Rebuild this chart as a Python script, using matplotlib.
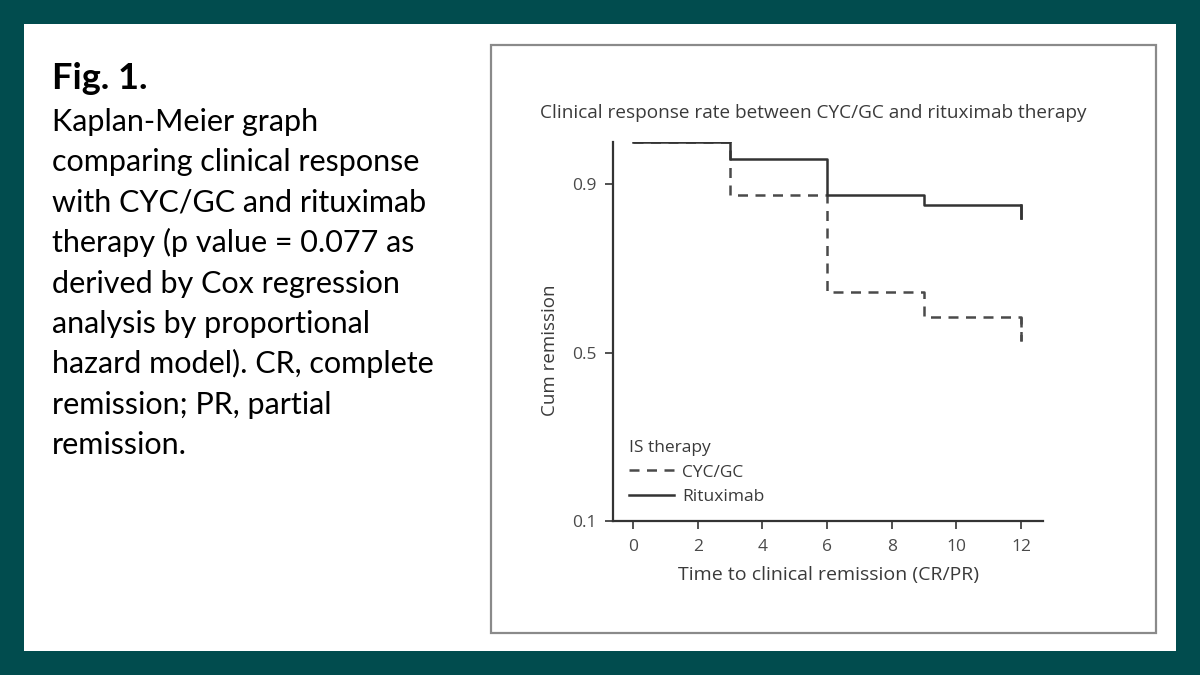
import matplotlib.pyplot as plt
from matplotlib.patches import Rectangle

# step data
time_x = [0, 3, 6, 9, 12]
cyc_y = [1.0, 0.874, 0.644, 0.585, 0.528]
ritux_y = [1.0, 0.959, 0.874, 0.85, 0.82]

x_ticks = [0, 2, 4, 6, 8, 10, 12]
y_ticks = [0.1, 0.5, 0.9]

caption = ["Kaplan-Meier graph",
           "comparing clinical response",
           "with CYC/GC and rituximab",
           "therapy (p value = 0.077 as",
           "derived by Cox regression",
           "analysis by proportional",
           "hazard model). CR, complete",
           "remission; PR, partial",
           "remission."]

W, H = 1200, 675
fig = plt.figure(figsize=(12, 6.75), dpi=100, facecolor="#014c4e")

# white slide panel
fig.patches.append(Rectangle((24 / W, 1 - 651 / H), 1152 / W, 627 / H,
                             transform=fig.transFigure, facecolor="white",
                             edgecolor="none", zorder=-3))
# grey frame around the chart image
fig.patches.append(Rectangle((491 / W, 1 - 633 / H), 665 / W, 588 / H,
                             transform=fig.transFigure, facecolor="white",
                             edgecolor="#8a8a8a", linewidth=1.6, zorder=-2))

# caption on the left
fig.text(52 / W, 1 - 89 / H, "Fig. 1.", fontsize=26, fontweight="bold",
         family="Lato", va="baseline", ha="left")
for i, line in enumerate(caption):
    fig.text(52 / W, 1 - (131 + i * 40.4) / H, line, fontsize=22,
             family="Lato", va="baseline", ha="left")

ax = fig.add_axes([613 / W, 1 - 521 / H, 430 / W, 379 / H])
ax.set_facecolor("none")

ax.step(time_x, cyc_y, where="post", color="#4a4a4a", linestyle=(0, (4, 3)),
        linewidth=1.8, label="CYC/GC")
ax.step(time_x, ritux_y, where="post", color="#333333", linewidth=1.8,
        label="Rituximab")
# final drop at the end of follow-up
ax.plot([12, 12], [cyc_y[-2], cyc_y[-1]], color="#4a4a4a",
        linestyle=(0, (4, 3)), linewidth=1.8)
ax.plot([12, 12], [ritux_y[-2], ritux_y[-1]], color="#333333", linewidth=1.8)

ax.set_xlim(-0.62, 12.68)
ax.set_ylim(0.1, 1.0)
ax.set_xticks(x_ticks)
ax.set_yticks(y_ticks)
ax.set_yticklabels(["0.1", "0.5", "0.9"])

for s in ["top", "right"]:
    ax.spines[s].set_visible(False)
for s in ["left", "bottom"]:
    ax.spines[s].set_color("#333333")
    ax.spines[s].set_linewidth(1.6)

ax.tick_params(axis="both", colors="#333333", labelcolor="#4a4a4a",
               labelsize=12.5, length=6, width=1.2)
ax.tick_params(axis="y", pad=6)
ax.tick_params(axis="x", pad=7)
for lbl in ax.get_xticklabels() + ax.get_yticklabels():
    lbl.set_family("Open Sans")

ttl = ax.set_title("Clinical response rate between CYC/GC and rituximab therapy",
                   fontsize=13.7, color="#3a3a3a", family="Open Sans", pad=17)
ttl.set_x(0.465)
ax.set_xlabel("Time to clinical remission (CR/PR)", fontsize=14,
              color="#3a3a3a", family="Open Sans", labelpad=8)
ax.set_ylabel("Cum remission", fontsize=13.5, color="#3a3a3a",
              family="Open Sans")
ax.yaxis.set_label_coords(-0.125, 0.45)

leg = ax.legend(title="IS therapy", loc="lower left", frameon=False,
                handlelength=2.6, handletextpad=0.5,
                alignment="left", borderaxespad=0.5, labelspacing=0.5,
                borderpad=0.4,
                prop={"family": "Open Sans", "size": 12.5})
leg.get_title().set_color("#3a3a3a")
leg.get_title().set_family("Open Sans")
leg.get_title().set_fontsize(12.5)
for t in leg.get_texts():
    t.set_color("#3a3a3a")

fig.savefig("out.png", dpi=100, facecolor=fig.get_facecolor())
